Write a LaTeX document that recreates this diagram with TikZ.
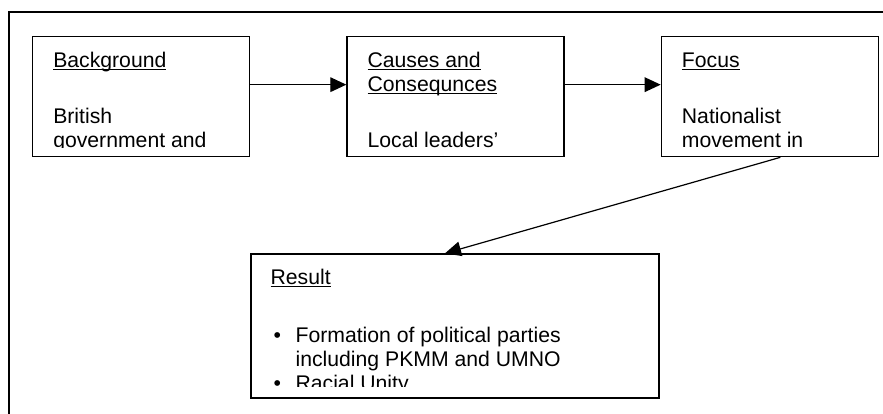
\documentclass[tikz,border=0pt]{standalone}
\usepackage{fontspec}
\setmainfont{Liberation Sans}
\usetikzlibrary{positioning, arrows.meta, calc}

\newcommand{\headline}[1]{\underline{\smash{#1}}}
\newcommand{\bulletitem}{\hspace*{2.3pt}\makebox[16.45pt][l]{\textbullet}}

\begin{document}
\begin{tikzpicture}[
  >={Triangle[length=12pt, width=11pt]},
  node distance=72pt and 72pt,
  box/.style={draw, line width=1pt, minimum width=162.75pt, minimum height=90pt, inner sep=0pt},
  resbox/.style={box, minimum width=306pt, minimum height=108pt},
  txt/.style={anchor=base west, inner sep=0pt, font=\fontsize{15.9pt}{18pt}\selectfont},
  line/.style={->, line width=0.9pt}
]
\useasboundingbox (0,0) rectangle (662.25pt,-310.5pt);

% outer frame (only left and top edges show)
\draw[line width=1.4pt] (6.75pt,-310.5pt) |- (662.25pt,-9pt);

% Row 1
\node[box, anchor=north west] (bg) at (24pt,-27pt) {};
\node[box, right=of bg] (cause) {};
\node[box, right=of cause] (focus) {};

% Row 2
\node[resbox, below right=72pt and 0pt of bg.south east] (result) {};

% Texts, cut off a little above the box bottoms
\begin{scope}
  \clip ([yshift=7.5pt]bg.south west) rectangle (bg.north east);
  \node[txt] (bgtext) at ($(bg.north west)+(15.75pt,-23.25pt)$) {\begin{tabular}[t]{@{}l@{}}\headline{Background}\\[24.75pt]British\\government and\end{tabular}};
\end{scope}
\begin{scope}
  \clip ([yshift=7.5pt]cause.south west) rectangle (cause.north east);
  \node[txt] (causetext) at ($(cause.north west)+(15.75pt,-23.25pt)$) {\begin{tabular}[t]{@{}l@{}}\headline{Causes and}\\\headline{Consequnces}\\[24.75pt]Local leaders’\end{tabular}};
\end{scope}
\begin{scope}
  \clip ([yshift=7.5pt]focus.south west) rectangle (focus.north east);
  \node[txt] (focustext) at ($(focus.north west)+(15.75pt,-23.25pt)$) {\begin{tabular}[t]{@{}l@{}}\headline{Focus}\\[24.75pt]Nationalist\\movement in\end{tabular}};
\end{scope}
\begin{scope}
  \clip ([yshift=9pt]result.south west) rectangle (result.north east);
  \node[txt] (resulttext) at ($(result.north west)+(15pt,-23.25pt)$) {\begin{tabular}[t]{@{}l@{}}\headline{Result}\\[25.5pt]\bulletitem Formation of political parties\\\hspace*{18.75pt}including PKMM and UMNO\\\bulletitem Racial Unity\end{tabular}};
\end{scope}

% Arrows Row 1
\draw[line] ([yshift=9pt]bg.east) -- ([yshift=9pt]cause.west);
\draw[line] ([yshift=9pt]cause.east) -- ([yshift=9pt]focus.west);

% Arrow to Row 2
\draw[line] ([xshift=7.9pt]focus.south) -- ([xshift=-7.5pt]result.north);

\end{tikzpicture}
\end{document}
